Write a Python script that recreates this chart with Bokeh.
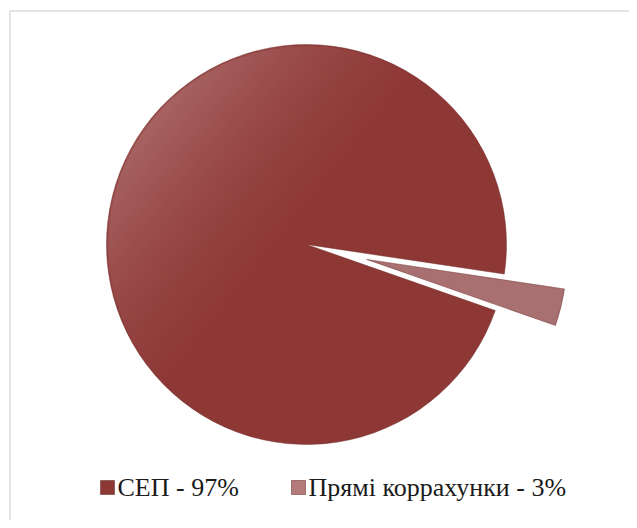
import numpy as np
from bokeh.plotting import figure
from bokeh.models import Range1d, BoxAnnotation
from bokeh.core.properties import value
from bokeh.embed import file_html
from bokeh.resources import INLINE

# ---- data ----
categories = ["СЕП", "Прямі коррахунки"]
labels = ["СЕП - 97%", "Прямі коррахунки - 3%"]
values = [97, 3]

# ---- style ----
colors = ["#8E3836", "#A87070"]
legend_colors = ["#8E3836", "#B47A7A"]
explode = [0, 62]          # px
start_deg = -8.5           # where first slice begins (counter-clockwise)
W, H = 629, 520
cx, cy, R = 306, 276, 200
legend_x = [107, 298]      # marker centres
legend_y = 33

p = figure(width=W, height=H, output_backend="svg", toolbar_location=None,
           x_range=Range1d(0, W), y_range=Range1d(0, H), min_border=0)
p.axis.visible = False
p.grid.visible = False
p.outline_line_color = None
p.background_fill_color = "white"

total = float(sum(values))
fracs = np.array(values) / total
ends = np.radians(start_deg) + np.cumsum(fracs) * 2 * np.pi
starts = np.concatenate([[np.radians(start_deg)], ends[:-1]])
mids = (starts + ends) / 2
xs = cx + np.array(explode) * np.cos(mids)
ys = cy + np.array(explode) * np.sin(mids)

for i in range(len(values)):
    p.wedge(x=[xs[i]], y=[ys[i]], radius=R, start_angle=[starts[i]], end_angle=[ends[i]],
            fill_color=colors[i], line_color="#6a2826", line_alpha=0.45, line_width=1)

# gradient sheen on the pie (light at top-left)
N = 200
g = np.linspace(-1, 1, N)
GX, GY = np.meshgrid(g, g)
dist = np.sqrt(GX**2 + GY**2)
s = (-GX + 0.8 * GY) / np.sqrt(1.64)
alpha = 0.22 * np.clip(s, 0, 1) ** 1.6
edge = np.clip((1 - dist) * N / 2 + 0.5, 0, 1)
alpha = alpha * edge
img = np.zeros((N, N), dtype=np.uint32)
view = img.view(dtype=np.uint8).reshape((N, N, 4))
view[:, :, 0] = 255
view[:, :, 1] = 255
view[:, :, 2] = 255
view[:, :, 3] = (alpha * 255).astype(np.uint8)
p.image_rgba(image=[img], x=cx - R, y=cy - R, dw=2 * R, dh=2 * R)

# chart frame (top/left visible)
p.add_layout(BoxAnnotation(left=9.5, right=W + 50, bottom=-50, top=H - 10.5,
                           fill_alpha=0, line_color="#8c8c8c", line_width=1.5))

# legend
p.scatter(x=legend_x, y=[legend_y] * len(labels), marker="square", size=14,
          fill_color=legend_colors, line_color="#5a2220", line_alpha=0.5, line_width=1)
p.text(x=[lx + 10 for lx in legend_x], y=[legend_y] * len(labels), text=labels,
       text_font=value("Liberation Serif"), text_font_size="26px",
       text_color="#1a1a1a", text_baseline="middle", text_align="left")

open("out.html", "w").write(file_html(p, INLINE))
